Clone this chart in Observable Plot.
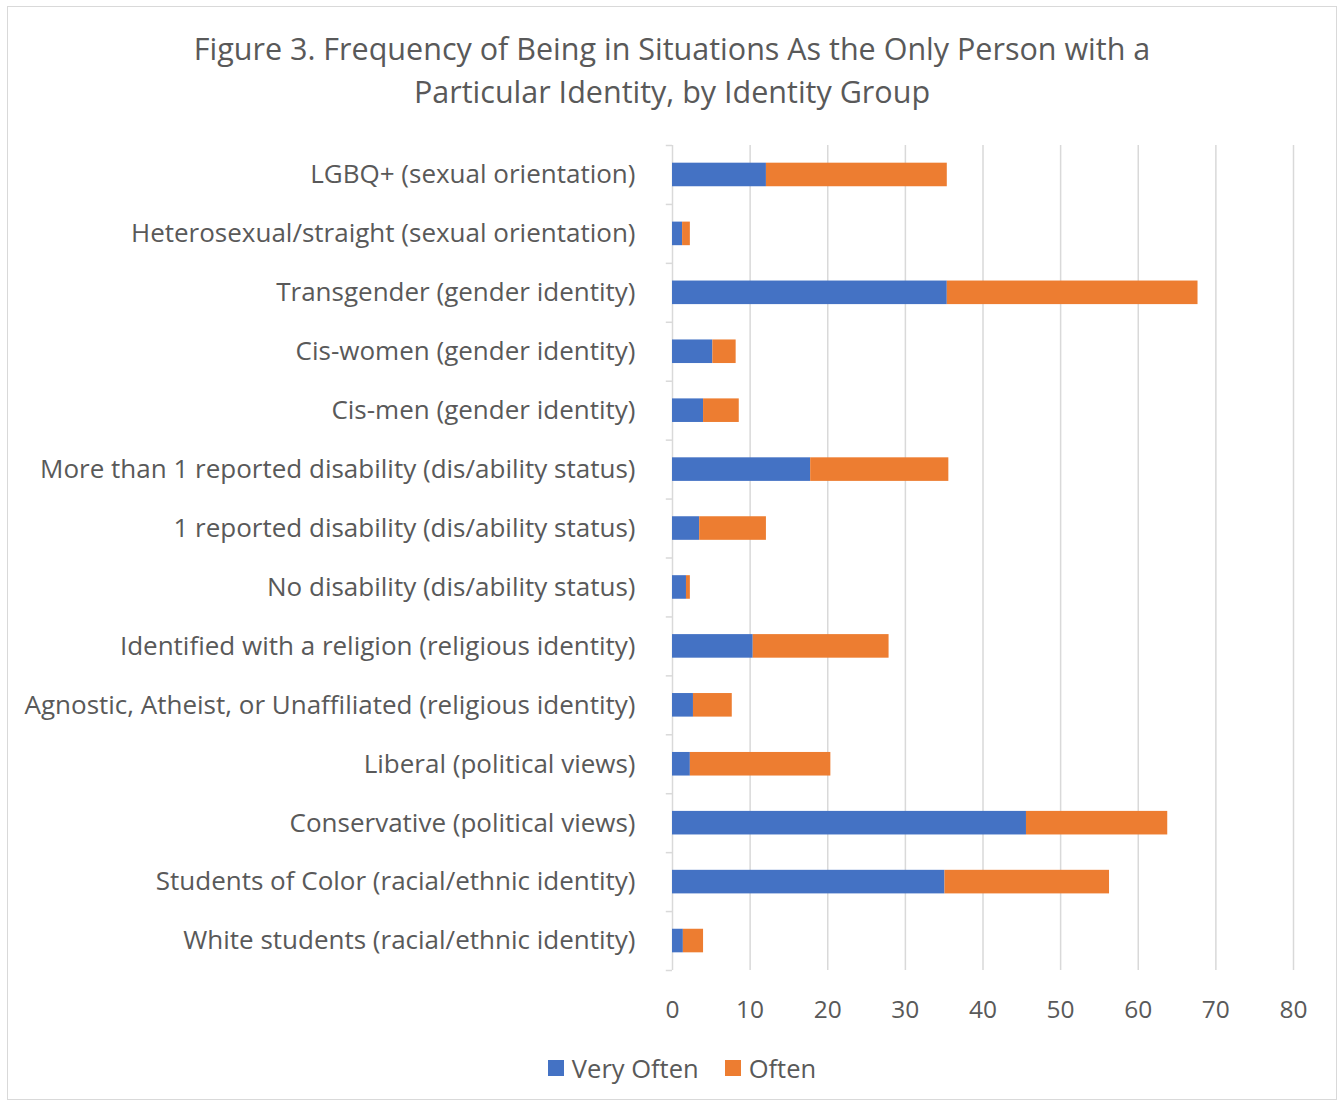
<!DOCTYPE html>
<html><head><meta charset="utf-8">
<script src="https://cdn.jsdelivr.net/npm/d3@7"></script>
<script src="https://cdn.jsdelivr.net/npm/@observablehq/plot@0.6"></script>
<style>
body{margin:0;background:#fff;font-family:"Open Sans", sans-serif;width:1344px;height:1103px;position:relative;overflow:hidden;}
#frame{position:absolute;left:7px;top:6px;width:1330px;height:1094px;border:1.5px solid #d9d9d9;box-sizing:border-box;}
#title{position:absolute;left:0;width:1344px;top:27px;text-align:center;font-size:30.5px;line-height:43px;color:#595959;}
#chart{position:absolute;left:0;top:130px;}
#legend{position:absolute;top:1049px;left:10px;width:1344px;display:flex;justify-content:center;gap:26px;font-size:25.5px;line-height:38px;color:#595959;}
#legend .item{display:flex;align-items:center;gap:8px;}
#legend .sw{width:16px;height:16px;display:inline-block;}
</style></head>
<body>
<div id="frame"></div>
<div id="title">Figure 3. Frequency of Being in Situations As the Only Person with a<br>Particular Identity, by Identity Group</div>
<div id="chart"></div>
<div id="legend"></div>
<script>
const categories = [
  "LGBQ+ (sexual orientation)",
  "Heterosexual/straight (sexual orientation)",
  "Transgender (gender identity)",
  "Cis-women (gender identity)",
  "Cis-men (gender identity)",
  "More than 1 reported disability (dis/ability status)",
  "1 reported disability (dis/ability status)",
  "No disability (dis/ability status)",
  "Identified with a religion (religious identity)",
  "Agnostic, Atheist, or Unaffiliated (religious identity)",
  "Liberal (political views)",
  "Conservative (political views)",
  "Students of Color (racial/ethnic identity)",
  "White students (racial/ethnic identity)"
];
const veryOften = [12.1, 1.3, 35.4, 5.2, 4.0, 17.8, 3.5, 1.8, 10.4, 2.7, 2.3, 45.6, 35.1, 1.4];
const often     = [23.3, 1.0, 32.3, 3.0, 4.6, 17.8, 8.6, 0.5, 17.5, 5.0, 18.1, 18.2, 21.2, 2.6];
const series = ["Very Often", "Often"];
const colors = ["#4472C4", "#ED7D31"];
const xTicks = [0, 10, 20, 30, 40, 50, 60, 70, 80];

const data = categories.flatMap((c, i) => [
  {category: c, series: series[0], value: veryOften[i]},
  {category: c, series: series[1], value: often[i]}
]);

const step = 825 / categories.length;
const chart = Plot.plot({
  width: 1344, height: 900,
  marginLeft: 672, marginRight: 51, marginTop: 15, marginBottom: 60,
  style: {fontFamily: "'Open Sans', sans-serif", background: "transparent"},
  x: {domain: [0, 80]},
  y: {domain: categories, paddingInner: 0.6, paddingOuter: 0.3, round: false},
  color: {domain: series, range: colors},
  marks: [
    Plot.ruleX(xTicks, {x: d => d, stroke: "#d9d9d9", strokeWidth: 1.5, strokeOpacity: 1}),
    Plot.ruleY(categories, {y: d => d, x1: -0.8, x2: 0, dy: -step / 2, stroke: "#d9d9d9", strokeWidth: 1.5, strokeOpacity: 1}),
    Plot.ruleY([categories[categories.length - 1]], {y: d => d, x1: -0.8, x2: 0, dy: step / 2, stroke: "#d9d9d9", strokeWidth: 1.5, strokeOpacity: 1}),
    Plot.barX(data, Plot.stackX({y: "category", x: "value", fill: "series", order: series})),
    Plot.axisX({ticks: xTicks, tickSize: 0, tickPadding: 30, fontSize: 24.5, color: "#595959", label: null}),
    Plot.axisY({tickSize: 0, tickPadding: 37, fontSize: 26, color: "#595959", label: null})
  ]
});
document.getElementById("chart").appendChild(chart);

const legend = d3.select("#legend");
series.forEach((s, i) => {
  const it = legend.append("div").attr("class", "item");
  it.append("span").attr("class", "sw").style("background", colors[i]);
  it.append("span").text(s);
});
</script>
</body></html>
